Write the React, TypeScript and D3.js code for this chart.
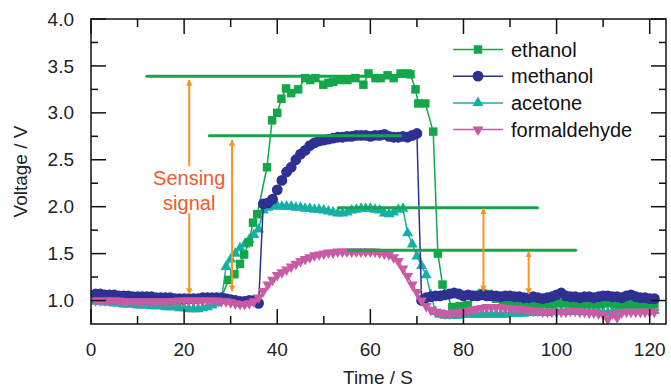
import React from 'react'
import * as d3 from 'd3'

// sample times (s) of the methanol / acetone / formaldehyde traces
const seconds = d3.range(1, 122)

const methanol = [
  1.07, 1.07, 1.06, 1.06, 1.06, 1.05, 1.05, 1.05, 1.04, 1.04,
  1.04, 1.04, 1.04, 1.03, 1.03, 1.03, 1.03, 1.02, 1.02, 1.02,
  1.02, 1.02, 1.02, 1.03, 1.03, 1.03, 1.03, 1.03, 1.02, 1.01,
  1.0, 0.99, 0.99, 1.0, 1.0, 0.97, 2.03, 2.04, 2.08, 2.18,
  2.28, 2.37, 2.42, 2.5, 2.56, 2.6, 2.65, 2.68, 2.7, 2.71,
  2.72, 2.73, 2.74, 2.74, 2.75, 2.75, 2.76, 2.76, 2.76, 2.75,
  2.76, 2.76, 2.77, 2.75, 2.74, 2.74, 2.75, 2.74, 2.76, 2.78,
  1.0, 1.03, 1.04, 1.05, 1.05, 1.06, 1.07, 1.08, 1.07, 1.05,
  1.06, 1.05, 1.05, 1.06, 1.05, 1.05, 1.05, 1.04, 1.05, 1.05,
  1.04, 1.04, 1.03, 1.03, 1.04, 1.03, 1.02, 1.03, 1.04, 1.06,
  1.08, 1.05, 1.04, 1.04, 1.03, 1.04, 1.04, 1.03, 1.04, 1.05,
  1.05, 1.04, 1.04, 1.03, 1.05, 1.06, 1.04, 1.03, 1.03, 1.02,
  1.02
]

const acetone = [
  0.99, 0.99, 0.98, 0.98, 0.97, 0.97, 0.96, 0.96, 0.96, 0.95,
  0.95, 0.95, 0.94, 0.94, 0.94, 0.93, 0.93, 0.93, 0.92, 0.92,
  0.91, 0.91, 0.91, 0.92, 0.93, 0.95, 0.97, 1.0, 1.36, 1.44,
  1.5, 1.56, 1.6, 1.65, 1.7, 1.76, 1.96, 1.99, 2.0, 2.01,
  2.0, 2.0, 2.0, 1.99, 1.99, 1.98, 1.98, 1.97, 1.97, 1.96,
  1.95, 1.94, 1.93, 1.93, 1.94, 1.96, 1.97, 1.98, 1.98, 1.98,
  1.97, 1.96, 1.93, 1.92, 1.94, 1.97, 1.98, 1.72, 1.6, 1.47,
  1.37, 1.27, 1.06, 0.88, 0.85, 0.84, 0.84, 0.84, 0.84, 0.85,
  0.85, 0.85, 0.85, 0.85, 0.85, 0.85, 0.85, 0.85, 0.85, 0.86,
  0.86, 0.86, 0.86, 0.87, 0.87, 0.87, 0.87, 0.87, 0.88, 0.88,
  0.88, 0.88, 0.88, 0.88, 0.88, 0.88, 0.88, 0.88, 0.88, 0.87,
  0.87, 0.88, 0.89, 0.89, 0.89, 0.89, 0.89, 0.89, 0.89, 0.89,
  0.89
]

const formaldehyde = [
  1.0, 1.0, 1.0, 1.0, 1.0, 1.0, 0.99, 0.99, 0.99, 0.99,
  0.99, 0.99, 0.99, 0.99, 0.99, 0.99, 0.99, 0.99, 1.0, 1.0,
  1.0, 1.0, 1.0, 1.0, 1.0, 1.0, 1.0, 0.99, 0.99, 0.98,
  0.97, 0.96, 0.96, 0.97, 0.99, 1.03, 1.1, 1.17, 1.22, 1.27,
  1.3, 1.33, 1.36, 1.39, 1.42, 1.44, 1.46, 1.48, 1.49, 1.5,
  1.51, 1.51, 1.52, 1.52, 1.52, 1.52, 1.52, 1.52, 1.52, 1.52,
  1.52, 1.51, 1.5, 1.49, 1.46, 1.42, 1.34, 1.26, 1.17, 1.09,
  1.0, 0.94, 0.9, 0.88, 0.87, 0.86, 0.86, 0.87, 0.87, 0.88,
  0.89, 0.9, 0.91, 0.92, 0.93, 0.93, 0.93, 0.93, 0.92, 0.92,
  0.91, 0.91, 0.9, 0.9, 0.89, 0.89, 0.88, 0.88, 0.88, 0.88,
  0.88, 0.88, 0.89, 0.89, 0.88, 0.88, 0.87, 0.87, 0.86, 0.85,
  0.8, 0.86, 0.82, 0.87, 0.88, 0.88, 0.88, 0.88, 0.88, 0.88,
  0.88
]

// ethanol was logged on its own (irregular) clock
const ethanolTime = [
  1, 2.5, 4, 5.5, 7, 8.5, 10, 11.5, 13, 14.5,
  16, 17.5, 19, 20.5, 22, 23.5, 25, 26.5, 28, 29.5,
  30.8, 32, 32.9, 33.9, 34.8, 35.7, 37.8, 38.9, 40, 40.9,
  41.9, 43, 44.5, 46, 47.1, 48.2, 49.9, 51, 52, 53.5,
  55.1, 56.8, 58.5, 59.6, 61.1, 62.2, 63.7, 65, 66.5, 68,
  68.6, 69.7, 70.3, 71.8, 73.5, 74.5, 75.5, 77.6, 79.2, 80.9,
  82.5, 84, 85.5, 87, 88.5, 90, 91.5, 93, 94.5, 96,
  97.5, 99, 100.5, 102, 103.5, 105, 106.5, 108, 109.5, 111,
  112.5, 114, 115.5, 117, 118.5, 120, 121
]
const ethanol = [
  1.02, 1.02, 1.02, 1.02, 1.01, 1.01, 1.01, 1.01, 1.01, 1.0,
  1.0, 1.0, 1.0, 1.01, 1.02, 1.02, 1.02, 1.02, 1.03, 1.22,
  1.28, 1.39, 1.49, 1.62, 1.83, 1.92, 2.42, 2.92, 3.0, 3.15,
  3.26, 3.21, 3.25, 3.37, 3.35, 3.37, 3.3, 3.32, 3.33, 3.35,
  3.35, 3.37, 3.3, 3.42, 3.37, 3.37, 3.4, 3.37, 3.42, 3.42,
  3.41, 3.25, 3.1, 3.1, 2.8, 1.5, 1.17, 0.93, 0.94, 0.95,
  1.06, 1.08, 1.07, 1.02, 0.99, 0.98, 0.97, 0.97, 0.96, 0.96,
  0.96, 0.96, 0.97, 0.97, 0.96, 0.96, 0.96, 0.96, 0.96, 0.97,
  0.96, 0.96, 0.96, 0.96, 0.96, 0.96, 0.96
]

// steady-state levels (V) marked by green guide lines, with their time span
const levelValue = [3.39, 2.757, 1.99, 1.535]
const levelStart = [12, 25.4, 53.1, 55.3]
const levelEnd = [69.2, 66.5, 95.9, 104.1]

// double arrows showing the sensing signal: time, top tip, bottom tip
const arrowTime = [21.1, 30.3, 84.3, 94]
const arrowTop = [3.35, 2.71, 1.98, 1.52]
const arrowBottom = [1.07, 1.1, 1.1, 1.07]

const xTicks = [0, 20, 40, 60, 80, 100, 120]
const xMinor = [10, 30, 50, 70, 90, 110]
const yTicks = [1.0, 1.5, 2.0, 2.5, 3.0, 3.5, 4.0]
const yMinor = [1.25, 1.75, 2.25, 2.75, 3.25, 3.75]

const FONT = '"Liberation Sans", Arial, Helvetica, sans-serif'
const ORANGE = '#f7941d'
const GUIDE = '#12a84a'

type Shape = 'square' | 'circle' | 'up' | 'down'

const symbolPath = (shape: Shape) => {
  if (shape === 'square') return d3.symbol(d3.symbolSquare, 72)()
  if (shape === 'circle') return d3.symbol(d3.symbolCircle, 92)()
  return d3.symbol(d3.symbolTriangle, 52)()
}

function Marker({ shape, cx, cy, color }: { shape: Shape, cx: number, cy: number, color: string }) {
  const rot = shape === 'down' ? ' rotate(180)' : ''
  return <path d={symbolPath(shape) || ''} transform={`translate(${cx},${cy})${rot}`} fill={color} />
}

export default function App() {
  const W = 671, H = 388
  const x = d3.scaleLinear().domain([0, 123.5]).range([91, 666])
  const y = d3.scaleLinear().domain([0.75, 4.0]).range([324, 19])
  const [x0, x1] = x.range()
  const [y1, y0] = y.range()

  const series = [
    { name: 'acetone', color: '#14b0a6', shape: 'up' as Shape, t: seconds, v: acetone },
    { name: 'ethanol', color: '#12a84a', shape: 'square' as Shape, t: ethanolTime, v: ethanol },
    { name: 'methanol', color: '#2e3192', shape: 'circle' as Shape, t: seconds, v: methanol },
    { name: 'formaldehyde', color: '#c95ba5', shape: 'down' as Shape, t: seconds, v: formaldehyde },
  ]
  const legendOrder = ['ethanol', 'methanol', 'acetone', 'formaldehyde']

  const line = d3.line<[number, number]>().x(d => x(d[0])).y(d => y(d[1]))

  return (
    <svg width={W} height={H} style={{ position: 'absolute', left: 0, top: 0, background: '#fff' }} fontFamily={FONT}>
      <defs>
        <marker id="head" viewBox="0 0 10 10" refX="9" refY="5" markerWidth="3.2" markerHeight="3.2" orient="auto-start-reverse">
          <path d="M0,0 L10,5 L0,10 z" fill={ORANGE} />
        </marker>
        <clipPath id="plot">
          <rect x={x0} y={y0} width={x1 - x0} height={y1 - y0} />
        </clipPath>
      </defs>

      <g clipPath="url(#plot)">
        {series.map(s => {
          const pts = s.t.slice(0, s.v.length).map((t, i) => [t, s.v[i]] as [number, number])
          return (
            <g key={s.name}>
              <path d={line(pts) || ''} fill="none" stroke={s.color} strokeWidth={1.5} />
              {pts.map((p, i) => <Marker key={i} shape={s.shape} cx={x(p[0])} cy={y(p[1])} color={s.color} />)}
            </g>
          )
        })}
      </g>

      {levelValue.map((v, i) => (
        <line key={i} x1={x(levelStart[i])} x2={x(levelEnd[i])} y1={y(v)} y2={y(v)}
          stroke={GUIDE} strokeWidth={3} strokeLinecap="round" />
      ))}

      {arrowTime.map((t, i) => i === 0 ? (
        <g key={i}>
          <line x1={x(t)} x2={x(t)} y1={y(2.43)} y2={y(arrowTop[i])} stroke={ORANGE} strokeWidth={2} markerEnd="url(#head)" />
          <line x1={x(t)} x2={x(t)} y1={y(1.93)} y2={y(arrowBottom[i])} stroke={ORANGE} strokeWidth={2} markerEnd="url(#head)" />
        </g>
      ) : (
        <line key={i} x1={x(t)} x2={x(t)} y1={y(arrowTop[i])} y2={y(arrowBottom[i])} stroke={ORANGE} strokeWidth={2}
          markerStart="url(#head)" markerEnd="url(#head)" />
      ))}

      <text x={x(21.1)} y={y(2.235)} textAnchor="middle" fontSize={20} fill="#f15a29">Sensing</text>
      <text x={x(21.1)} y={y(1.97)} textAnchor="middle" fontSize={20} fill="#f15a29">signal</text>

      {/* frame and inward ticks on all four sides */}
      <rect x={x0} y={y0} width={x1 - x0} height={y1 - y0} fill="none" stroke="#111" strokeWidth={1.5} />
      {xTicks.map(t => (
        <g key={'xt' + t} stroke="#111" strokeWidth={1.5}>
          <line x1={x(t)} x2={x(t)} y1={y1} y2={y1 - 15} />
          <line x1={x(t)} x2={x(t)} y1={y0} y2={y0 + 15} />
        </g>
      ))}
      {xMinor.map(t => (
        <g key={'xm' + t} stroke="#111" strokeWidth={1.5}>
          <line x1={x(t)} x2={x(t)} y1={y1} y2={y1 - 8} />
          <line x1={x(t)} x2={x(t)} y1={y0} y2={y0 + 8} />
        </g>
      ))}
      {yTicks.map(v => (
        <g key={'yt' + v} stroke="#111" strokeWidth={1.5}>
          <line x1={x0} x2={x0 + 15} y1={y(v)} y2={y(v)} />
          <line x1={x1} x2={x1 - 15} y1={y(v)} y2={y(v)} />
        </g>
      ))}
      {yMinor.map(v => (
        <g key={'ym' + v} stroke="#111" strokeWidth={1.5}>
          <line x1={x0} x2={x0 + 7} y1={y(v)} y2={y(v)} />
          <line x1={x1} x2={x1 - 7} y1={y(v)} y2={y(v)} />
        </g>
      ))}

      {xTicks.map(t => (
        <text key={'xl' + t} x={x(t)} y={356} textAnchor="middle" fontSize={19} fill="#222">{t}</text>
      ))}
      {yTicks.map(v => (
        <text key={'yl' + v} x={74} y={y(v)} dy="0.35em" textAnchor="end" fontSize={19} fill="#222">{v.toFixed(1)}</text>
      ))}
      <text x={378} y={384} textAnchor="middle" fontSize={19} fill="#222">Time / S</text>
      <text transform={`translate(27,${(y0 + y1) / 2}) rotate(-90)`} textAnchor="middle" fontSize={19} fill="#222">Voltage / V</text>

      {legendOrder.map((name, i) => {
        const s = series.find(d => d.name === name)!
        const cy = 49.5 + i * 26.7
        return (
          <g key={name}>
            <line x1={453} x2={503} y1={cy} y2={cy} stroke={s.color} strokeWidth={1.5} />
            <Marker shape={s.shape} cx={478} cy={cy} color={s.color} />
            <text x={511} y={cy} dy="0.35em" fontSize={20} fill="#111">{name}</text>
          </g>
        )
      })}
    </svg>
  )
}
